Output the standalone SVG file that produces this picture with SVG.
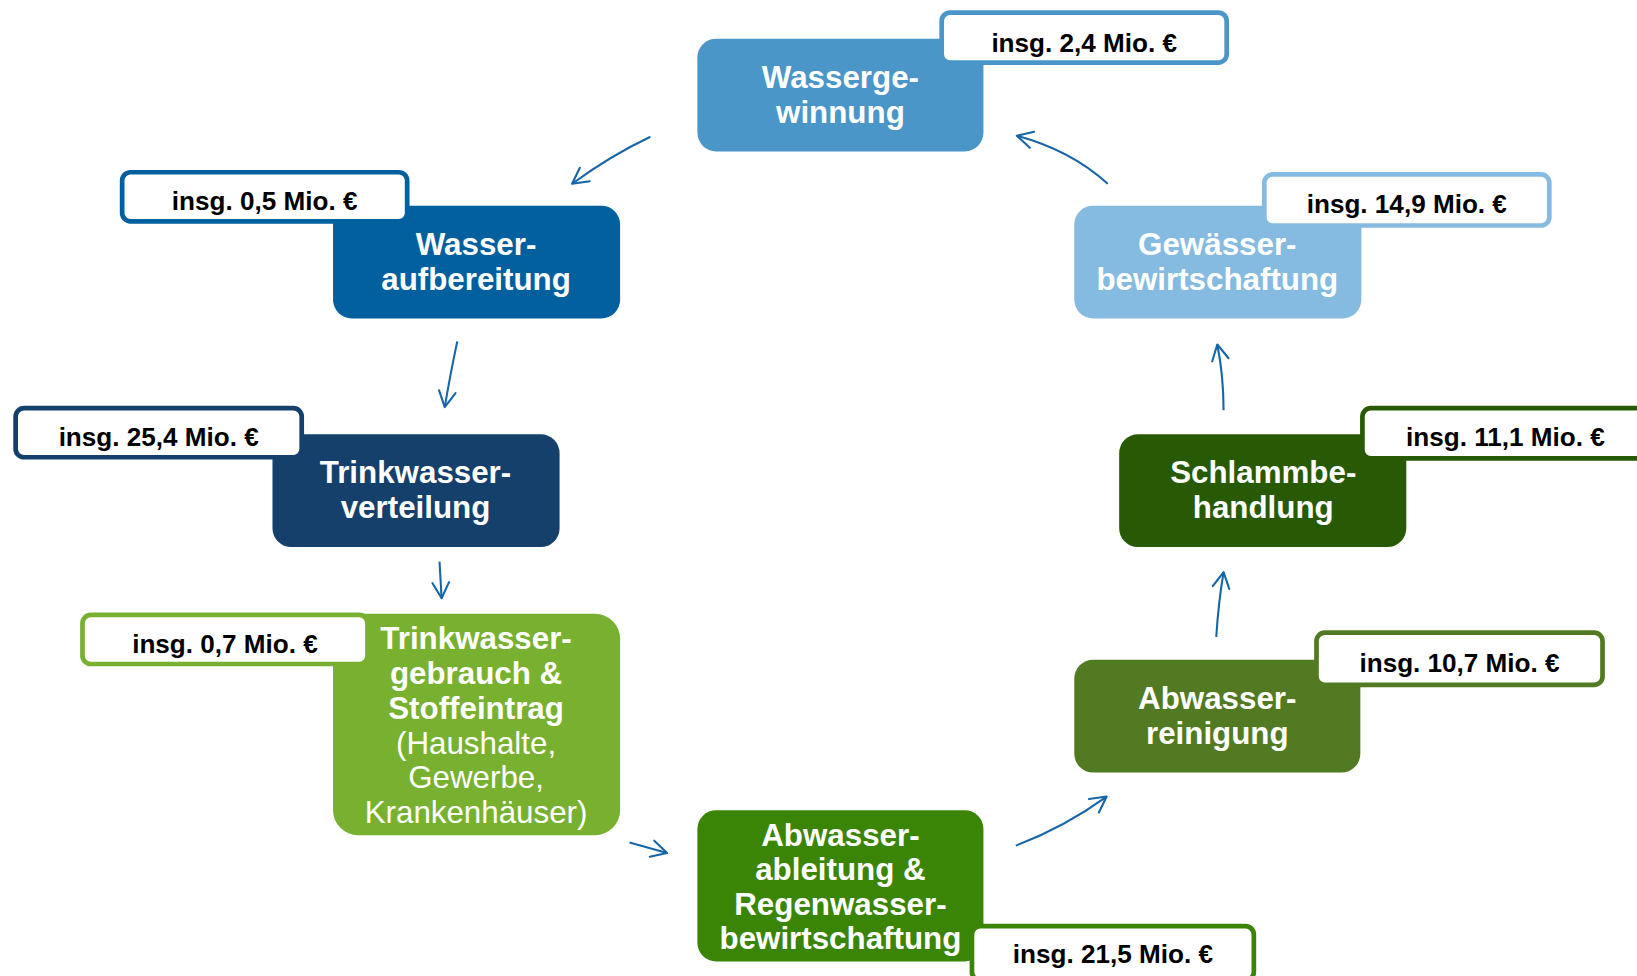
<svg xmlns="http://www.w3.org/2000/svg" width="1637" height="976" viewBox="0 0 1637 976">
<style>
.node{stroke:none}
.lbl{fill:#ffffff;stroke-width:4.5}
.lt{font-family:"Liberation Sans",Arial,sans-serif;font-weight:bold;font-size:25px;fill:#000000;text-anchor:middle}
.nt{font-family:"Liberation Sans",Arial,sans-serif;font-weight:bold;font-size:30px;fill:#ffffff;text-anchor:middle}
.nr{font-weight:normal}
.arr{fill:none;stroke:#1565a8;stroke-width:2;marker-end:url(#ah)}
</style>
<defs>
<marker id="ah" markerUnits="userSpaceOnUse" orient="auto" markerWidth="40" markerHeight="40" refX="0" refY="0" viewBox="-20 -20 40 40" overflow="visible">
<path d="M-15,-8 L0,0 L-15,8" fill="none" stroke="#1565a8" stroke-width="2" stroke-linecap="round" stroke-linejoin="round"/>
</marker>
</defs>
<rect width="1637" height="976" fill="#ffffff"/>
<g transform="scale(1.044)">
<g id="connectors">
<path class="arr" d="M623,131 Q585,149 548,176"/>
<path class="arr" d="M438,327 Q431,360 426,390"/>
<path class="arr" d="M421,538 Q422,556 423,573"/>
<path class="arr" d="M603,807 L639,817"/>
<path class="arr" d="M973,810 Q1020,792 1060,763"/>
<path class="arr" d="M1165,610 Q1167,578 1172,548"/>
<path class="arr" d="M1172,393 Q1172,360 1166,330"/>
<path class="arr" d="M1061,176 Q1026,144 974,130"/>
</g>
<g id="wassergewinnung">
<rect class="node" x="668" y="37" width="274" height="108" rx="18" fill="#4a96c9"/>
<rect class="lbl" x="902" y="12" width="273" height="48" rx="8" stroke="#4a96c9"/>
<text class="lt" x="1038.5" y="50">insg. 2,4 Mio. €</text>
<text class="nt" x="805" y="84">Wasserge-</text>
<text class="nt" x="805" y="117.5">winnung</text>
</g>
<g id="wasseraufbereitung">
<rect class="node" x="319" y="197" width="275" height="108" rx="18" fill="#02609f"/>
<rect class="lbl" x="117" y="165" width="273" height="47" rx="8" stroke="#02609f"/>
<text class="lt" x="253.5" y="201">insg. 0,5 Mio. €</text>
<text class="nt" x="456" y="244">Wasser-</text>
<text class="nt" x="456" y="277.5">aufbereitung</text>
</g>
<g id="trinkwasserverteilung">
<rect class="node" x="261" y="416" width="275" height="108" rx="18" fill="#15406b"/>
<rect class="lbl" x="15" y="391" width="274" height="47" rx="8" stroke="#15406b"/>
<text class="lt" x="152" y="427">insg. 25,4 Mio. €</text>
<text class="nt" x="398" y="463">Trinkwasser-</text>
<text class="nt" x="398" y="496.5">verteilung</text>
</g>
<g id="trinkwassergebrauch">
<rect class="node" x="319" y="588" width="275" height="212" rx="24" fill="#78b130"/>
<rect class="lbl" x="79" y="589" width="273" height="47" rx="8" stroke="#78b130"/>
<text class="lt" x="215.5" y="625.5">insg. 0,7 Mio. €</text>
<text class="nt" x="456" y="622">Trinkwasser-</text>
<text class="nt" x="456" y="655">gebrauch &amp;</text>
<text class="nt" x="456" y="689">Stoffeintrag</text>
<text class="nt nr" x="456" y="722">(Haushalte,</text>
<text class="nt nr" x="456" y="755">Gewerbe,</text>
<text class="nt nr" x="456" y="788">Krankenhäuser)</text>
</g>
<g id="abwasserableitung">
<rect class="node" x="668" y="776" width="274" height="145" rx="18" fill="#3a8506"/>
<rect class="lbl" x="931" y="887" width="270" height="52" rx="8" stroke="#3a8506"/>
<text class="lt" x="1066" y="922">insg. 21,5 Mio. €</text>
<text class="nt" x="805" y="810">Abwasser-</text>
<text class="nt" x="805" y="843">ableitung &amp;</text>
<text class="nt" x="805" y="876">Regenwasser-</text>
<text class="nt" x="805" y="909">bewirtschaftung</text>
</g>
<g id="abwasserreinigung">
<rect class="node" x="1029" y="632" width="274" height="108" rx="18" fill="#527a22"/>
<rect class="lbl" x="1261" y="606" width="274" height="50" rx="8" stroke="#527a22"/>
<text class="lt" x="1398" y="643.5">insg. 10,7 Mio. €</text>
<text class="nt" x="1166" y="679">Abwasser-</text>
<text class="nt" x="1166" y="712.5">reinigung</text>
</g>
<g id="schlammbehandlung">
<rect class="node" x="1072" y="416" width="275" height="108" rx="18" fill="#285a05"/>
<rect class="lbl" x="1305" y="391" width="274" height="48" rx="8" stroke="#285a05"/>
<text class="lt" x="1442" y="427.5">insg. 11,1 Mio. €</text>
<text class="nt" x="1210" y="463">Schlammbe-</text>
<text class="nt" x="1210" y="496.5">handlung</text>
</g>
<g id="gewaesserbewirtschaftung">
<rect class="node" x="1029" y="197" width="275" height="108" rx="18" fill="#85bbe0"/>
<rect class="lbl" x="1211" y="167" width="273" height="49" rx="8" stroke="#85bbe0"/>
<text class="lt" x="1347.5" y="204.5">insg. 14,9 Mio. €</text>
<text class="nt" x="1166" y="244">Gewässer-</text>
<text class="nt" x="1166" y="277.5">bewirtschaftung</text>
</g>
</g>
</svg>
